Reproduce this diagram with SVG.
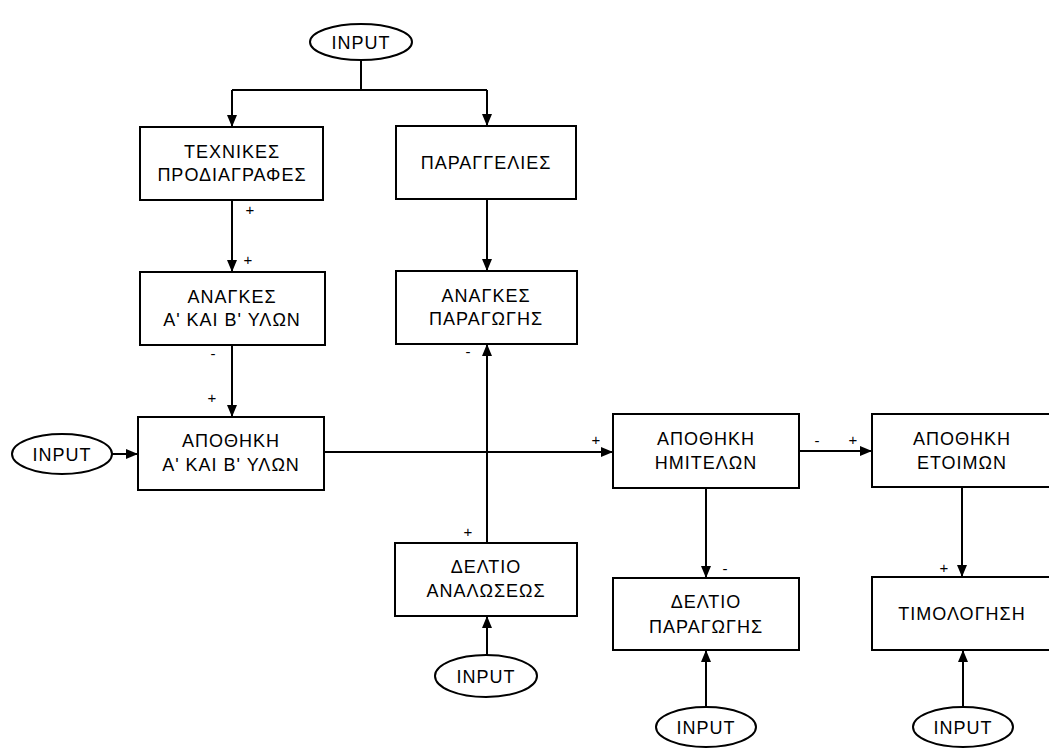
<svg xmlns="http://www.w3.org/2000/svg" width="1049" height="749" viewBox="0 0 1049 749">
<defs>
<marker id="ah" markerUnits="userSpaceOnUse" markerWidth="13" markerHeight="13" viewBox="0 0 13 13" refX="12" refY="6.5" orient="auto">
<path d="M0,1.5 L12,6.5 L0,11.5 Z" fill="#000"/>
</marker>
<style>
.box{fill:#fff;stroke:#000;stroke-width:2}
.ell{fill:#fff;stroke:#000;stroke-width:2}
.t{font-family:"Liberation Sans",Arial,sans-serif;font-size:18px;letter-spacing:1px;text-anchor:middle;fill:#000}
.c{fill:none;stroke:#000;stroke-width:2}
.a{marker-end:url(#ah)}
.s{font-family:"Liberation Sans",Arial,sans-serif;font-size:15px;text-anchor:middle;fill:#000}
</style>
</defs>
<rect width="1049" height="749" fill="#fff"/>
<g id="connectors">
<path class="c" d="M361,60 V90 M232,90 H487"/>
<path class="c a" d="M232,90 V127"/>
<path class="c a" d="M487,90 V126"/>
<path class="c a" d="M232,200 V272"/>
<path class="c a" d="M232,345 V417"/>
<path class="c a" d="M487,199 V271"/>
<path class="c a" d="M487,543 V344"/>
<path class="c a" d="M324,452 H613"/>
<path class="c a" d="M112,454 H138"/>
<path class="c a" d="M799,451 H872"/>
<path class="c a" d="M706,488 V578"/>
<path class="c a" d="M962,487 V577"/>
<path class="c a" d="M487,656 V616"/>
<path class="c a" d="M706,707 V650"/>
<path class="c a" d="M963,707 V650"/>
<text class="s" x="250" y="215">+</text>
<text class="s" x="248" y="265">+</text>
<text class="s" x="213" y="359">-</text>
<text class="s" x="212" y="403">+</text>
<text class="s" x="468" y="357">-</text>
<text class="s" x="468" y="537">+</text>
<text class="s" x="596" y="445">+</text>
<text class="s" x="817" y="446">-</text>
<text class="s" x="853" y="445">+</text>
<text class="s" x="725" y="574">-</text>
<text class="s" x="944" y="573">+</text>
</g>
<g id="input-top"><ellipse class="ell" cx="361" cy="42" rx="51" ry="18"/><text class="t" x="361" y="49">INPUT</text></g>
<g id="input-left"><ellipse class="ell" cx="62" cy="454" rx="50" ry="20"/><text class="t" x="62" y="461">INPUT</text></g>
<g id="input-analoseos"><ellipse class="ell" cx="486" cy="676" rx="51" ry="21"/><text class="t" x="486" y="683">INPUT</text></g>
<g id="input-paragogis"><ellipse class="ell" cx="706" cy="727" rx="50" ry="20"/><text class="t" x="706" y="734">INPUT</text></g>
<g id="input-timologisi"><ellipse class="ell" cx="963" cy="727" rx="50" ry="20"/><text class="t" x="963" y="734">INPUT</text></g>
<g id="texnikes"><rect class="box" x="140" y="127" width="183" height="73"/><text class="t" x="232" y="158">ΤΕΧΝΙΚΕΣ</text><text class="t" x="232" y="181">ΠΡΟΔΙΑΓΡΑΦΕΣ</text></g>
<g id="paraggelies"><rect class="box" x="396" y="126" width="180" height="73"/><text class="t" x="486" y="169">ΠΑΡΑΓΓΕΛΙΕΣ</text></g>
<g id="anagkes-ylon"><rect class="box" x="140" y="272" width="185" height="73"/><text class="t" x="232" y="303">ΑΝΑΓΚΕΣ</text><text class="t" x="232" y="326">Α' ΚΑΙ Β' ΥΛΩΝ</text></g>
<g id="anagkes-paragogis"><rect class="box" x="396" y="271" width="181" height="73"/><text class="t" x="486" y="302">ΑΝΑΓΚΕΣ</text><text class="t" x="486" y="325">ΠΑΡΑΓΩΓΗΣ</text></g>
<g id="apothiki-ylon"><rect class="box" x="138" y="417" width="186" height="73"/><text class="t" x="231" y="447">ΑΠΟΘΗΚΗ</text><text class="t" x="231" y="471">Α' ΚΑΙ Β' ΥΛΩΝ</text></g>
<g id="apothiki-imitelon"><rect class="box" x="613" y="414" width="186" height="74"/><text class="t" x="706" y="445">ΑΠΟΘΗΚΗ</text><text class="t" x="706" y="469">ΗΜΙΤΕΛΩΝ</text></g>
<g id="apothiki-etoimon"><rect class="box" x="872" y="414" width="182" height="73"/><text class="t" x="962" y="445">ΑΠΟΘΗΚΗ</text><text class="t" x="962" y="469">ΕΤΟΙΜΩΝ</text></g>
<g id="deltio-analoseos"><rect class="box" x="395" y="543" width="182" height="73"/><text class="t" x="486" y="573">ΔΕΛΤΙΟ</text><text class="t" x="486" y="597">ΑΝΑΛΩΣΕΩΣ</text></g>
<g id="deltio-paragogis"><rect class="box" x="613" y="578" width="186" height="72"/><text class="t" x="706" y="608">ΔΕΛΤΙΟ</text><text class="t" x="706" y="633">ΠΑΡΑΓΩΓΗΣ</text></g>
<g id="timologisi"><rect class="box" x="872" y="577" width="182" height="73"/><text class="t" x="962" y="620">ΤΙΜΟΛΟΓΗΣΗ</text></g>
</svg>
